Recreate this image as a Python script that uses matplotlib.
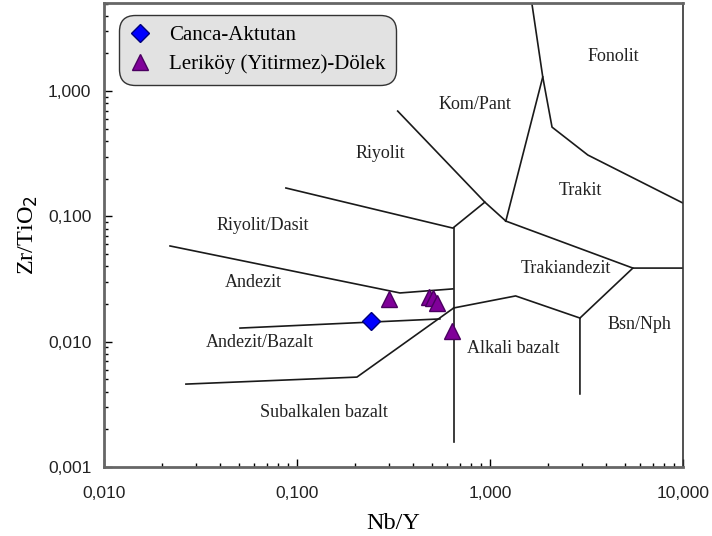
import matplotlib
matplotlib.use("Agg")
import matplotlib.pyplot as plt
from matplotlib.ticker import FixedLocator, LogLocator, NullFormatter, FuncFormatter

plt.rcParams['font.family'] = ['Liberation Serif', 'DejaVu Serif']

# samples
canca_x = [0.242]
canca_y = [0.0146]
lerikoy_x = [0.300, 0.483, 0.507, 0.531, 0.635]
lerikoy_y = [0.0219, 0.0228, 0.0223, 0.0204, 0.0122]

# field boundaries (Nb/Y, Zr/TiO2)
boundaries = [
    ([0.0220, 0.342, 0.643], [0.0581, 0.0245, 0.0264]),
    ([0.650, 0.650], [0.0807, 0.00158]),
    ([0.0877, 0.643, 0.942], [0.1686, 0.0807, 0.130]),
    ([0.333, 0.942, 1.21], [0.693, 0.130, 0.0918]),
    ([1.21, 1.88], [0.0918, 1.297]),
    ([1.65, 1.88, 2.10, 3.22, 10.0], [5.05, 1.297, 0.516, 0.309, 0.128]),
    ([1.21, 5.51, 10.0], [0.0918, 0.0387, 0.0387]),
    ([5.51, 2.93, 2.93], [0.0387, 0.01545, 0.00383]),
    ([2.93, 1.36, 0.650], [0.01545, 0.0232, 0.0186]),
    ([0.0507, 0.551], [0.01285, 0.0152]),
    ([0.0266, 0.2047, 0.650], [0.00459, 0.00522, 0.0186]),
]

field_names = ["Fonolit", "Kom/Pant", "Riyolit", "Trakit", "Riyolit/Dasit",
               "Trakiandezit", "Andezit", "Bsn/Nph", "Andezit/Bazalt",
               "Alkali bazalt", "Subalkalen bazalt"]
field_x = [4.39, 0.835, 0.272, 2.93, 0.0667, 2.48, 0.0598, 5.98, 0.0643, 1.315, 0.138]
field_y = [1.905, 0.789, 0.315, 0.1596, 0.0853, 0.0387, 0.0299, 0.01384, 0.00977, 0.00875, 0.0027]

fig = plt.figure(figsize=(7.12, 5.36), dpi=100)
ax = fig.add_axes([0.146, 0.1287, 0.813, 0.8657])
ax.set_xscale('log')
ax.set_yscale('log')
ax.set_xlim(0.01, 10)
ax.set_ylim(0.001, 5.05)

for bx, by in boundaries:
    ax.plot(bx, by, color='#1a1a1a', lw=1.2, zorder=2)

for name, tx, ty in zip(field_names, field_x, field_y):
    ax.text(tx, ty, name, ha='center', va='center', fontsize=13, color='#222222')

ax.plot(canca_x, canca_y, linestyle='none', marker='D', ms=9, mfc='#0000ff',
        mec='#00007a', mew=1, label='Canca-Aktutan', zorder=4)
ax.plot(lerikoy_x, lerikoy_y, linestyle='none', marker='^', ms=11, mfc='#800099',
        mec='#4a0060', mew=1, label='Leriköy (Yitirmez)-Dölek', zorder=4)

leg = ax.legend(loc='upper left', bbox_to_anchor=(0.026, 0.974), fontsize=15,
                frameon=True, fancybox=True, borderpad=0.5, handletextpad=0.9,
                labelspacing=0.45, borderaxespad=0.0, handlelength=1.0)
frame = leg.get_frame()
frame.set_facecolor('#e2e2e2')
frame.set_edgecolor('#333333')
frame.set_alpha(1)
frame.set_linewidth(1.0)
frame.set_boxstyle('round,pad=0,rounding_size=0.75')

fmt = lambda v, pos: ('%.3f' % v).replace('.', ',')
ax.xaxis.set_major_locator(FixedLocator([0.01, 0.1, 1, 10]))
ax.yaxis.set_major_locator(FixedLocator([0.001, 0.01, 0.1, 1]))
ax.xaxis.set_major_formatter(FuncFormatter(fmt))
ax.yaxis.set_major_formatter(FuncFormatter(fmt))
ax.xaxis.set_minor_locator(LogLocator(base=10, subs=range(2, 10)))
ax.yaxis.set_minor_locator(LogLocator(base=10, subs=range(2, 10)))
ax.xaxis.set_minor_formatter(NullFormatter())
ax.yaxis.set_minor_formatter(NullFormatter())
ax.tick_params(which='major', direction='in', length=6, width=1, labelsize=12.5)
ax.tick_params(which='minor', direction='in', length=3, width=1)
ax.tick_params(axis='x', which='major', pad=14)
ax.tick_params(axis='y', which='major', pad=9)
for lab in ax.get_xticklabels() + ax.get_yticklabels():
    lab.set_family(['Liberation Sans', 'DejaVu Sans'])
    lab.set_color('#222222')

for side in ['left', 'bottom', 'top']:
    ax.spines[side].set_color('#666666')
    ax.spines[side].set_linewidth(2)
ax.spines['right'].set_color('#333333')
ax.spines['right'].set_linewidth(1.2)

ax.set_xlabel('Nb/Y', fontsize=17.5, labelpad=8)
ax.set_ylabel('Zr/TiO$_2$', fontsize=17.5, labelpad=6)

fig.savefig('out.png', dpi=100)
